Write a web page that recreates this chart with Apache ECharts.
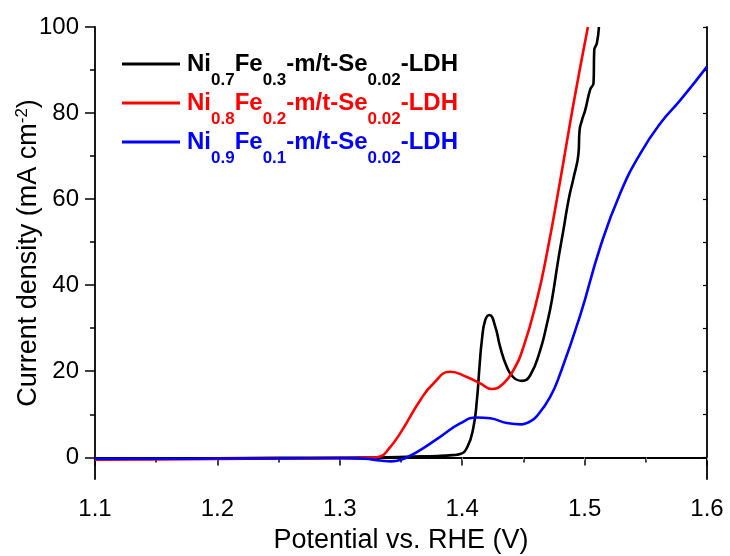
<!DOCTYPE html>
<html><head><meta charset="utf-8">
<script src="https://cdn.jsdelivr.net/npm/echarts@6/dist/echarts.min.js"></script>
<style>html,body{margin:0;padding:0;background:#fff}#c{width:730px;height:556px}</style>
</head><body><div id="c"></div>
<script>
// ---- data ----
const seriesNames = ['Ni0.7Fe0.3-m/t-Se0.02-LDH', 'Ni0.8Fe0.2-m/t-Se0.02-LDH', 'Ni0.9Fe0.1-m/t-Se0.02-LDH'];
const nameParts = [
  ['Ni', '0.7', 'Fe', '0.3', '-m/t-Se', '0.02', '-LDH'],
  ['Ni', '0.8', 'Fe', '0.2', '-m/t-Se', '0.02', '-LDH'],
  ['Ni', '0.9', 'Fe', '0.1', '-m/t-Se', '0.02', '-LDH']
];
const seriesColors = ['#000000', '#ff0000', '#0000ff'];

const blackPotential = [1.10,1.15,1.20,1.25,1.30,1.33,1.36,1.38,1.392,1.3983,1.4043,1.4092,1.412,1.4141,1.4161,1.4188,1.4223,1.427,1.431,1.4365,1.4419,1.4488,1.4556,1.4637,1.4692,1.4733,1.4785,1.4828,1.487,1.491,1.495,1.4959,1.498,1.5005,1.5046,1.5073,1.5079,1.51,1.5117];
const blackCurrent   = [-0.3,-0.3,-0.2,-0.1,-0.05,0,0.2,0.35,0.55,0.8,2.5,7.1,13.3,21,27.3,31.9,33.1,30.4,25.7,21,18.6,17.8,19.1,24.9,31,36.6,46,53,60,65,70.6,76,78.5,80.7,85.5,87,94.7,96.2,100];

const redPotential = [1.10,1.15,1.20,1.25,1.30,1.325,1.333,1.340,1.3493,1.3657,1.3765,1.3902,1.4038,1.4147,1.4243,1.4337,1.4419,1.4501,1.461,1.4692,1.4801,1.491,1.5027];
const redCurrent   = [-0.5,-0.45,-0.35,-0.25,-0.15,-0.1,0.2,2.0,5.6,13.3,17.2,19.9,18.7,17.2,15.9,17.2,20.3,25.7,36.6,47.4,64.4,82.3,100];

const bluePotential = [1.10,1.15,1.20,1.25,1.30,1.32,1.333,1.342,1.3493,1.3575,1.3657,1.382,1.3983,1.412,1.4229,1.4365,1.4488,1.455,1.461,1.4719,1.4801,1.4964,1.5128,1.5291,1.5455,1.5618,1.5782,1.60];
const blueCurrent   = [-0.3,-0.3,-0.25,-0.2,-0.15,-0.3,-0.7,-0.9,-0.6,0.4,1.7,4.8,7.9,9.3,9.1,8.0,7.7,8.3,9.6,14.1,19.5,33,48.9,61.4,70.6,77.6,83,90.8];

const xMin = 1.1, xMax = 1.6, xStep = 0.1;
const yMin = -5, yMax = 100;
const yTickMin = 0, yTickStep = 20;
const xTitle = 'Potential vs. RHE (V)';
// ---------------------------------------

const FONT = 'Liberation Sans, Arial, sans-serif';
function zip(a, b) { return a.map((v, i) => [v, b[i]]); }
const allData = [zip(blackPotential, blackCurrent), zip(redPotential, redCurrent), zip(bluePotential, blueCurrent)];

const keys = ['k', 'r', 'b'];
const rich = {};
keys.forEach((k, i) => {
  rich[k + 'f'] = { fontFamily: FONT, fontSize: 24, fontWeight: 'bold', color: seriesColors[i], padding: [0, 0, 14, 2] };
  rich[k] = { fontFamily: FONT, fontSize: 24, fontWeight: 'bold', color: seriesColors[i], padding: [0, 0, 14, 0] };
  rich[k + 's'] = { fontFamily: FONT, fontSize: 17, fontWeight: 'bold', color: seriesColors[i], padding: [19, 0, 0, 0] };
});
// legend line sits near the top of its 58x17 icon box so it lines up with the main text
const legendIcon = 'path://M0,0 L58,0 L58,3 L0,3 Z M0,16.99 L0.01,16.99 L0.01,17 L0,17 Z';

const chart = echarts.init(document.getElementById('c'), null, { renderer: 'canvas' });
const axisLineStyle = { color: '#000', width: 1.8 };
chart.setOption({
  animation: false,
  backgroundColor: '#fff',
  grid: [
    { left: 95, right: 23, top: 27, bottom: 77, outerBoundsMode: 'none', containLabel: false },
    { left: 95, right: 23, top: 27, bottom: 98.7, outerBoundsMode: 'none', containLabel: false }
  ],
  legend: {
    orient: 'vertical', left: 122, top: 52, itemGap: 2, padding: 0,
    itemWidth: 58, itemHeight: 17, icon: legendIcon,
    itemStyle: { borderWidth: 0 },
    data: seriesNames,
    formatter: function (name) {
      const i = seriesNames.indexOf(name);
      const k = keys[i];
      return nameParts[i].map((p, j) => '{' + (j === 0 ? k + 'f' : (j % 2 ? k + 's' : k)) + '|' + p + '}').join('');
    },
    textStyle: { rich: rich }
  },
  xAxis: [
    {
      gridIndex: 0, type: 'value', min: xMin, max: xMax, interval: xStep, position: 'bottom',
      name: xTitle, nameLocation: 'middle', nameGap: 48.5,
      nameTextStyle: { fontFamily: FONT, fontSize: 27, color: '#000' },
      axisLine: { show: true, lineStyle: axisLineStyle },
      axisTick: { show: true, inside: false, length: 8, lineStyle: { color: '#000', width: 1.5 } },
      minorTick: { show: true, splitNumber: 2, length: 5, lineStyle: { color: '#000', width: 1.5 } },
      axisLabel: { fontFamily: FONT, fontSize: 24, color: '#000', margin: 18.5, formatter: v => v.toFixed(1) },
      splitLine: { show: false }
    },
    {
      gridIndex: 0, type: 'value', min: xMin, max: xMax, interval: xStep / 2, position: 'top',
      axisLine: { show: true, lineStyle: axisLineStyle },
      axisTick: { show: true, inside: true, length: 3, lineStyle: { color: '#999', width: 1 } },
      axisLabel: { show: false }, splitLine: { show: false }
    },
    { gridIndex: 1, type: 'value', min: 0, max: 1, show: false }
  ],
  yAxis: [
    {
      gridIndex: 0, type: 'value', min: yMin, max: yMax, position: 'left',
      name: 'Current density (mA cm{sup|-2})', nameLocation: 'middle', nameGap: 51,
      nameTextStyle: { fontFamily: FONT, fontSize: 27, color: '#000',
        rich: { sup: { fontFamily: FONT, fontSize: 17, color: '#000', padding: [0, 0, 13, 0] } } },
      axisLine: { show: true, lineStyle: axisLineStyle },
      axisTick: { show: false }, axisLabel: { show: false }, splitLine: { show: false }
    },
    {
      gridIndex: 0, type: 'value', min: yMin, max: yMax, position: 'right',
      axisLine: { show: true, lineStyle: axisLineStyle },
      axisTick: { show: false }, axisLabel: { show: false }, splitLine: { show: false }
    },
    {
      gridIndex: 1, type: 'value', min: yTickMin, max: yMax, interval: yTickStep, position: 'left',
      axisLine: { show: false },
      axisTick: { show: true, inside: false, length: 10, lineStyle: { color: '#000', width: 1.5 } },
      minorTick: { show: true, splitNumber: 2, length: 5, lineStyle: { color: '#000', width: 1.5 } },
      axisLabel: { fontFamily: FONT, fontSize: 24, color: '#000', margin: 16 },
      splitLine: { show: false }
    },
    {
      gridIndex: 1, type: 'value', min: yTickMin, max: yMax, interval: yTickStep / 2, position: 'right',
      axisLine: { show: false },
      axisTick: { show: true, inside: true, length: 4, lineStyle: { color: '#000', width: 1.2 } },
      axisLabel: { show: false }, splitLine: { show: false }
    }
  ],
  series: seriesNames.map((n, i) => ({
    name: n, type: 'line', xAxisIndex: 0, yAxisIndex: 0,
    data: allData[i], symbol: 'none', showSymbol: false,
    smooth: 0.5, clip: true,
    lineStyle: { color: seriesColors[i], width: 2.6 },
    itemStyle: { color: seriesColors[i] },
    z: 2 + i
  }))
});
</script></body></html>
